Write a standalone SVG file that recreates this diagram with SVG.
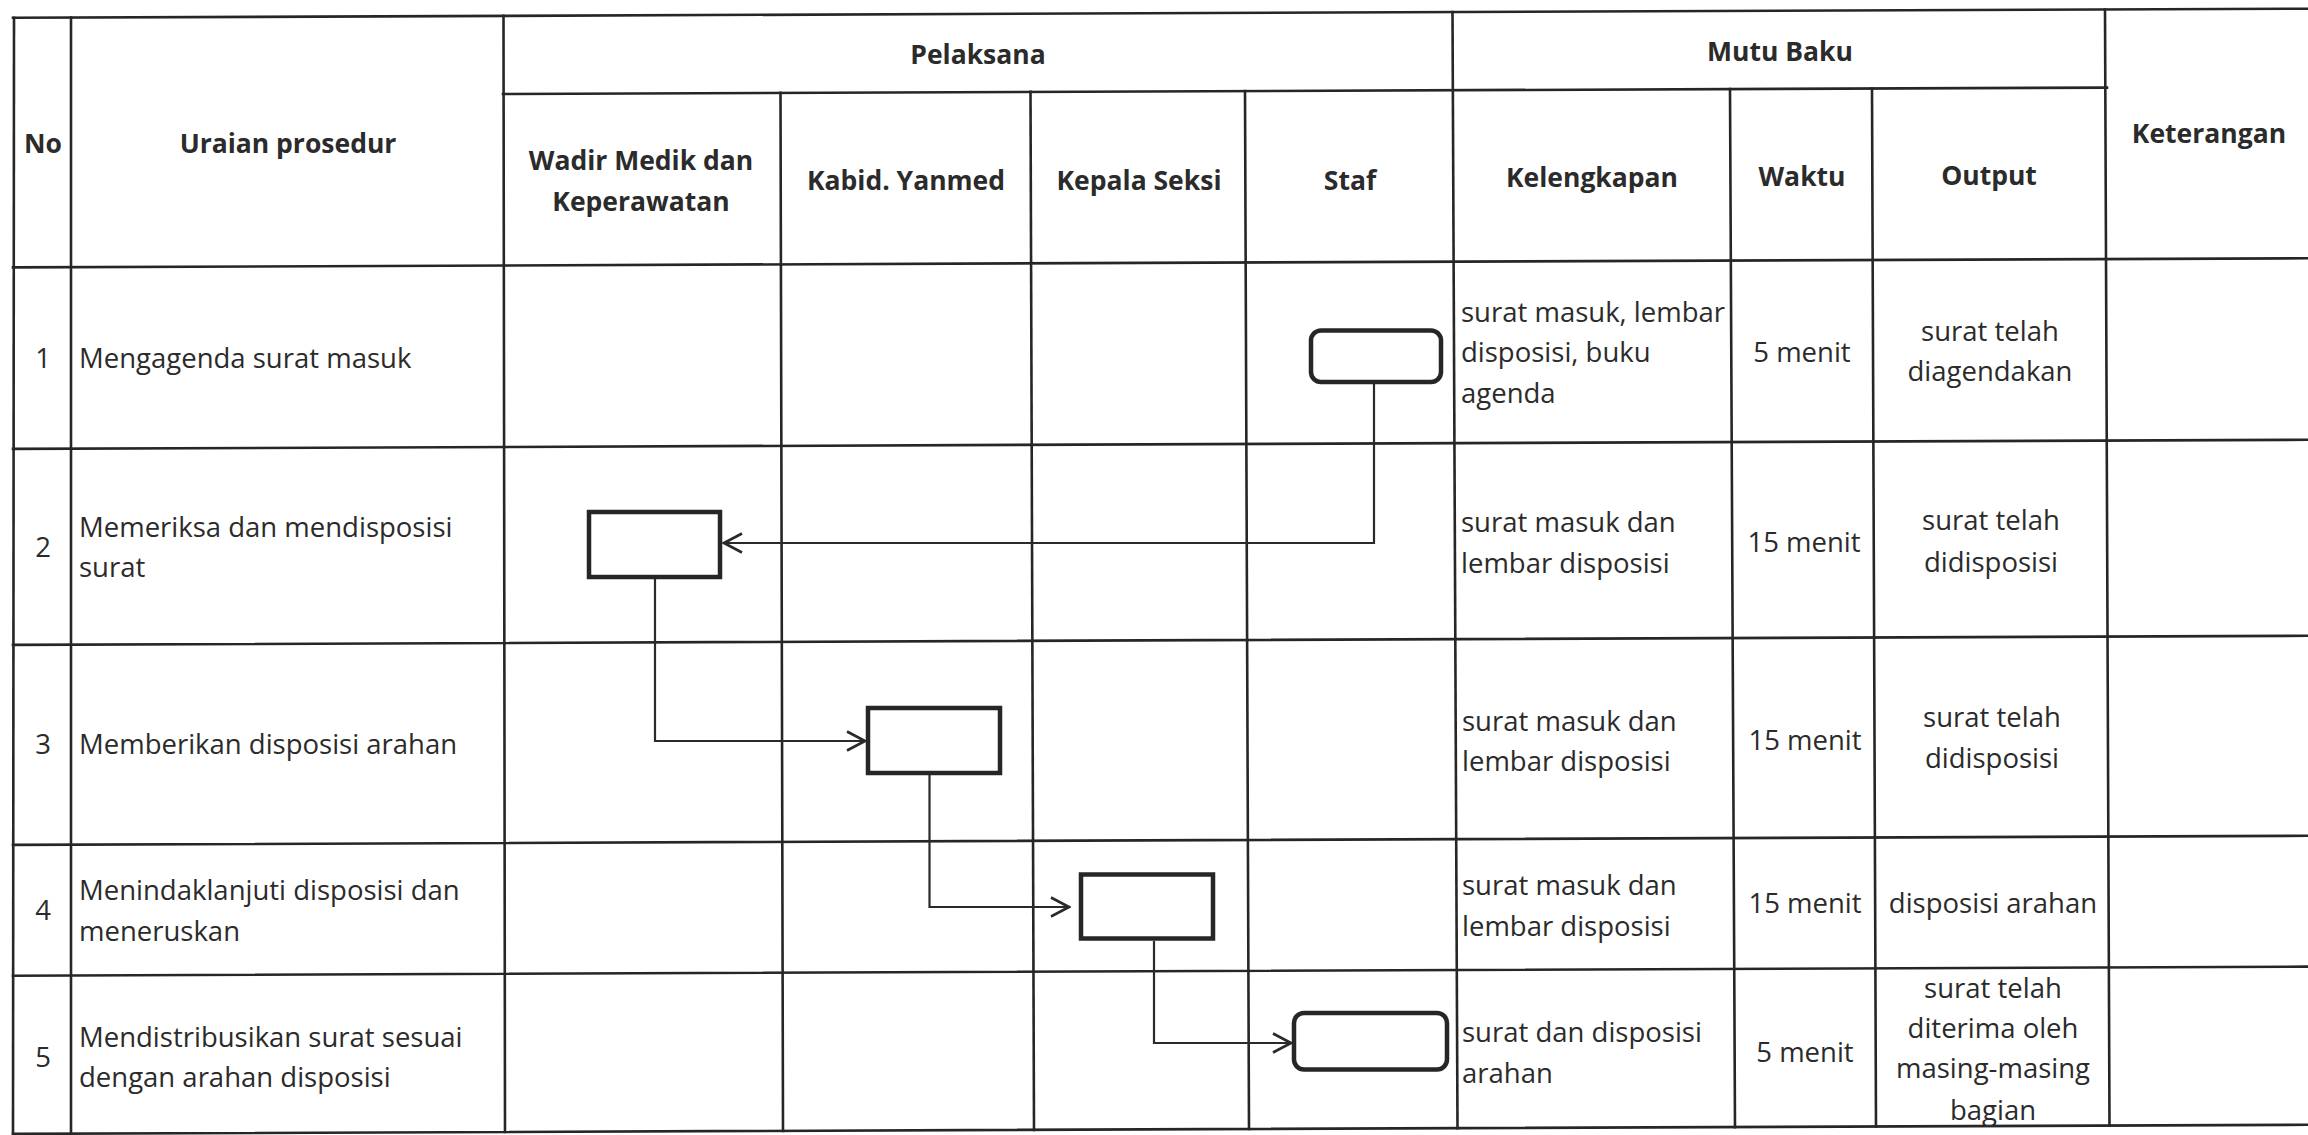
<svg xmlns="http://www.w3.org/2000/svg" width="2308" height="1135" viewBox="0 0 2308 1135">
<style>
  .grid line { stroke:#262626; stroke-width:2.6; stroke-linecap:square; }
  .hd { font-family:"Open Sans","Noto Sans","Liberation Sans",sans-serif; font-weight:700; font-size:26.5px; fill:#2b2b2b; text-anchor:middle; }
  .tx { font-family:"Open Sans","Noto Sans","Liberation Sans",sans-serif; font-size:27.5px; fill:#2b2b2b; }
  .mid { text-anchor:middle; }
  .node { fill:#ffffff; stroke:#262626; stroke-width:4.5; }
  .conn { fill:none; stroke:#2a2a2a; stroke-width:2.2; }
</style>
<defs>
  <marker id="arr" viewBox="0 0 22 22" refX="20" refY="11" markerWidth="22" markerHeight="22" markerUnits="userSpaceOnUse" orient="auto">
    <path d="M2,1.5 L20,11 L2,20.5" fill="none" stroke="#2a2a2a" stroke-width="2.6"/>
  </marker>
</defs>
<rect x="0" y="0" width="2308" height="1135" fill="#ffffff"/>

<g id="table" class="grid">
  <line x1="13" y1="17.8" x2="2308" y2="8.7"/>
  <line x1="503" y1="94" x2="2107" y2="87.6"/>
  <line x1="13" y1="267.4" x2="2308" y2="258.3"/>
  <line x1="13" y1="448.9" x2="2308" y2="439.8"/>
  <line x1="13" y1="644.9" x2="2308" y2="635.8"/>
  <line x1="13" y1="844.9" x2="2308" y2="835.8"/>
  <line x1="13" y1="975.7" x2="2308" y2="966.6"/>
  <line x1="13" y1="1133.9" x2="2308" y2="1124.8"/>
  <line x1="14" y1="17.8" x2="13" y2="1134"/>
  <line x1="71" y1="17.6" x2="71" y2="1133.7"/>
  <line x1="503.5" y1="15.9" x2="505" y2="1132"/>
  <line x1="780.5" y1="92.9" x2="783" y2="1130.9"/>
  <line x1="1030.5" y1="91.9" x2="1034" y2="1129.9"/>
  <line x1="1245" y1="91" x2="1249" y2="1129"/>
  <line x1="1452.5" y1="12.1" x2="1457.5" y2="1128.2"/>
  <line x1="1730" y1="89.1" x2="1735" y2="1127.1"/>
  <line x1="1872" y1="88.5" x2="1876" y2="1126.5"/>
  <line x1="2105" y1="9.5" x2="2109.5" y2="1125.6"/>
</g>

<g id="header">
  <text class="hd" x="43" y="153">No</text>
  <text class="hd" x="288" y="153">Uraian prosedur</text>
  <text class="hd" x="978" y="64">Pelaksana</text>
  <text class="hd" x="1780" y="61">Mutu Baku</text>
  <text class="hd" x="641" y="170">Wadir Medik dan</text>
  <text class="hd" x="641" y="211">Keperawatan</text>
  <text class="hd" x="906" y="190">Kabid. Yanmed</text>
  <text class="hd" x="1139" y="190">Kepala Seksi</text>
  <text class="hd" x="1350" y="190">Staf</text>
  <text class="hd" x="1592" y="187">Kelengkapan</text>
  <text class="hd" x="1802" y="186">Waktu</text>
  <text class="hd" x="1989" y="185">Output</text>
  <text class="hd" x="2209" y="143">Keterangan</text>
</g>

<g id="row1">
  <text class="tx mid" x="43" y="368">1</text>
  <text class="tx" x="79" y="368">Mengagenda surat masuk</text>
  <text class="tx" x="1461" y="322">surat masuk, lembar</text>
  <text class="tx" x="1461" y="362">disposisi, buku</text>
  <text class="tx" x="1461" y="403">agenda</text>
  <text class="tx mid" x="1802" y="362">5 menit</text>
  <text class="tx mid" x="1990" y="341">surat telah</text>
  <text class="tx mid" x="1990" y="381">diagendakan</text>
</g>

<g id="row2">
  <text class="tx mid" x="43" y="557">2</text>
  <text class="tx" x="79" y="537">Memeriksa dan mendisposisi</text>
  <text class="tx" x="79" y="577">surat</text>
  <text class="tx" x="1461" y="532">surat masuk dan</text>
  <text class="tx" x="1461" y="573">lembar disposisi</text>
  <text class="tx mid" x="1804" y="552">15 menit</text>
  <text class="tx mid" x="1991" y="530">surat telah</text>
  <text class="tx mid" x="1991" y="572">didisposisi</text>
</g>

<g id="row3">
  <text class="tx mid" x="43" y="754">3</text>
  <text class="tx" x="79" y="754">Memberikan disposisi arahan</text>
  <text class="tx" x="1462" y="731">surat masuk dan</text>
  <text class="tx" x="1462" y="771">lembar disposisi</text>
  <text class="tx mid" x="1805" y="750">15 menit</text>
  <text class="tx mid" x="1992" y="727">surat telah</text>
  <text class="tx mid" x="1992" y="768">didisposisi</text>
</g>

<g id="row4">
  <text class="tx mid" x="43" y="920">4</text>
  <text class="tx" x="79" y="900">Menindaklanjuti disposisi dan</text>
  <text class="tx" x="79" y="941">meneruskan</text>
  <text class="tx" x="1462" y="895">surat masuk dan</text>
  <text class="tx" x="1462" y="936">lembar disposisi</text>
  <text class="tx mid" x="1805" y="913">15 menit</text>
  <text class="tx mid" x="1993" y="913">disposisi arahan</text>
</g>

<g id="row5">
  <text class="tx mid" x="43" y="1067">5</text>
  <text class="tx" x="79" y="1047">Mendistribusikan surat sesuai</text>
  <text class="tx" x="79" y="1087">dengan arahan disposisi</text>
  <text class="tx" x="1462" y="1042">surat dan disposisi</text>
  <text class="tx" x="1462" y="1083">arahan</text>
  <text class="tx mid" x="1805" y="1062">5 menit</text>
  <text class="tx mid" x="1993" y="998">surat telah</text>
  <text class="tx mid" x="1993" y="1038">diterima oleh</text>
  <text class="tx mid" x="1993" y="1078">masing-masing</text>
  <text class="tx mid" x="1993" y="1120">bagian</text>
</g>

<g id="connectors">
  <path class="conn" d="M1374,383 V543 H724" marker-end="url(#arr)"/>
  <path class="conn" d="M655,579 V741 H865" marker-end="url(#arr)"/>
  <path class="conn" d="M929.5,775 V907 H1069" marker-end="url(#arr)"/>
  <path class="conn" d="M1154,941 V1043 H1291" marker-end="url(#arr)"/>
</g>

<g id="node-staf-1"><rect class="node" x="1311" y="330.5" width="130" height="51.5" rx="10"/></g>
<g id="node-wadir-2"><rect class="node" x="589" y="512" width="131" height="65"/></g>
<g id="node-kabid-3"><rect class="node" x="868" y="708" width="132" height="65"/></g>
<g id="node-kepala-4"><rect class="node" x="1081" y="874.5" width="132" height="64"/></g>
<g id="node-staf-5"><rect class="node" x="1294" y="1013" width="153" height="56.5" rx="10"/></g>
</svg>
